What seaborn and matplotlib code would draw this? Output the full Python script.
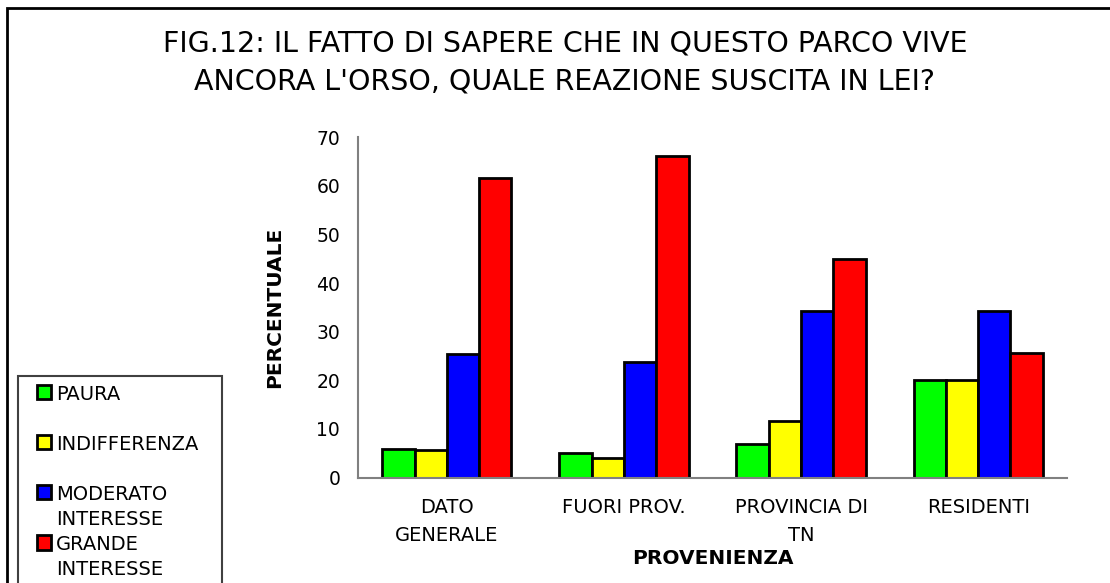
import numpy as np
import pandas as pd
import matplotlib as mpl
import matplotlib.pyplot as plt
import matplotlib.patches as mpatches
import seaborn as sns

# values
categories = ["DATO\nGENERALE", "FUORI PROV.", "PROVINCIA DI\nTN", "RESIDENTI"]
series = ["PAURA", "INDIFFERENZA", "MODERATO INTERESSE", "GRANDE INTERESSE"]
paura = [5.9, 5.1, 6.8, 20.0]
indifferenza = [5.7, 4.0, 11.6, 20.0]
moderato = [25.4, 23.7, 34.2, 34.3]
grande = [61.6, 66.2, 45.0, 25.7]
legend_labels = ["PAURA\n", "INDIFFERENZA\n", "MODERATO\nINTERESSE", "GRANDE\nINTERESSE"]
yticks = [0, 10, 20, 30, 40, 50, 60, 70]
colors = ["#00FF00", "#FFFF00", "#0000FF", "#FF0000"]

df = pd.DataFrame({
    "provenienza": categories * len(series),
    "reazione": np.repeat(series, len(categories)),
    "percentuale": paura + indifferenza + moderato + grande,
})

sns.set_style("white")
plt.rcParams["font.family"] = ["DejaVu Sans"]
plt.rcParams.update({"text.color": "black", "axes.labelcolor": "black",
                     "xtick.color": "black", "ytick.color": "black"})

W, H = 1110, 583
fig = plt.figure(figsize=(W / 100, H / 100), dpi=100)
ax = fig.add_axes([358.3 / W, 1 - 477.5 / H, (1066.7 - 358.3) / W, (477.5 - 137.3) / H])

sns.barplot(data=df, x="provenienza", y="percentuale", hue="reazione",
            order=categories, hue_order=series, palette=colors, saturation=1,
            width=0.73, edgecolor="black", linewidth=2, ax=ax)
handles, _ = ax.get_legend_handles_labels()
ax.get_legend().remove()

ax.set_xlim(-0.5, len(categories) - 0.5)
ax.set_ylim(0, 70)
ax.set_yticks(yticks)
ax.set_yticklabels([str(v) for v in yticks])
for side in ["top", "right"]:
    ax.spines[side].set_visible(False)
for side in ["left", "bottom"]:
    ax.spines[side].set_color("#808080")
    ax.spines[side].set_linewidth(1.5)
ax.set_xticks(np.arange(len(categories) + 1) - 0.5, minor=True)
ax.set_xticks(np.arange(len(categories)))
ax.set_xticklabels(categories, fontsize=14, linespacing=1.55)
ax.tick_params(axis="x", which="major", length=0, pad=15)
ax.tick_params(axis="x", which="minor", length=5, width=1.5, color="#808080", direction="out")
ax.tick_params(axis="y", length=5, width=1.5, color="#808080", labelcolor="black",
               direction="out", labelsize=13.5, pad=8)
ax.set_xlabel("PROVENIENZA", fontsize=14.5, fontweight="bold", labelpad=3)
ax.set_ylabel("PERCENTUALE", fontsize=14.5, fontweight="bold", labelpad=23)

fig.text(565 / W, 1 - 89.3 / H,
         "FIG.12: IL FATTO DI SAPERE CHE IN QUESTO PARCO VIVE\nANCORA L'ORSO, QUALE REAZIONE SUSCITA IN LEI?",
         ha="center", va="baseline", fontsize=20.5, linespacing=1.45)

# outer frame and legend frame
fig.patches.append(mpatches.Rectangle((7.3 / W, -0.05), 1.1, 1.05 - 8.3 / H,
                                      transform=fig.transFigure, fill=False,
                                      edgecolor="black", linewidth=2))
fig.patches.append(mpatches.Rectangle((18.3 / W, -0.05), (221.7 - 18.3) / W,
                                      0.05 + 1 - 376 / H, transform=fig.transFigure,
                                      fill=False, edgecolor="#404040", linewidth=1.5))

leg = fig.legend(handles, legend_labels, loc="upper left",
                 bbox_to_anchor=(36.7 / W, 1 - 384.7 / H), frameon=False,
                 borderpad=0, borderaxespad=0, handlelength=0.75, handleheight=0.75,
                 handletextpad=0.25, labelspacing=0.32, prop={"size": 14})
for t in leg.get_texts():
    t.set_linespacing(1.4)
for col in leg._legend_handle_box.get_children():
    for item in col.get_children():
        item.align = "top"
for p in leg.get_patches():
    p.set_edgecolor("black")
    p.set_linewidth(2)

fig.savefig("out.png", dpi=100)
